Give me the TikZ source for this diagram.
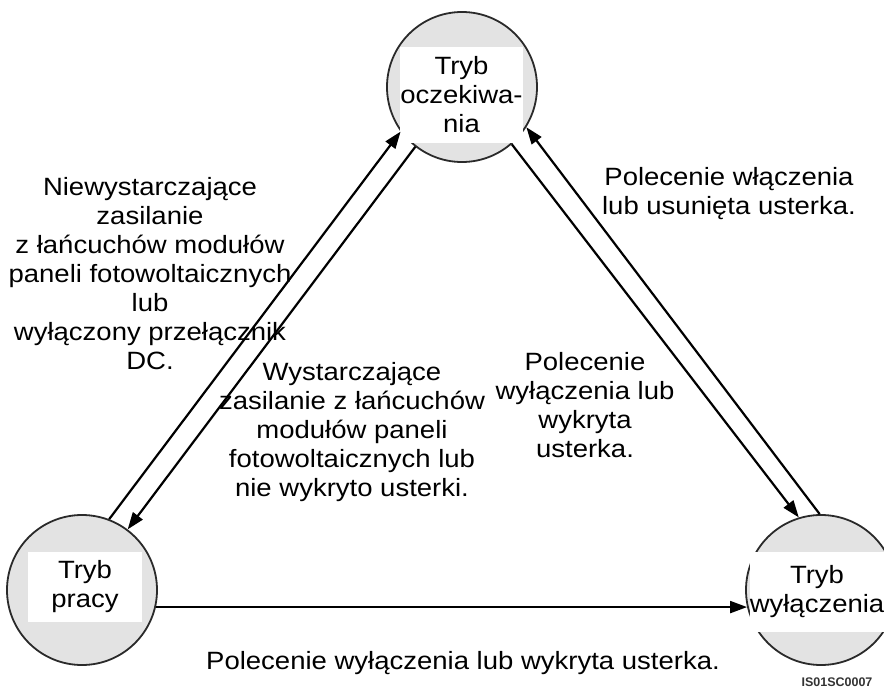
\documentclass[tikz,border=0pt]{standalone}
\usepackage{fontspec}
\setmainfont{Liberation Sans}[FakeStretch=1.1]
\newfontfamily\idfont{Liberation Sans}
\usetikzlibrary{arrows.meta}
\definecolor{circfill}{HTML}{E3E3E3}
\definecolor{circline}{HTML}{2A2A2A}
\tikzset{
  state/.style={circle, draw=circline, line width=1.8pt, fill=circfill, minimum size=150pt, inner sep=0pt},
  txtbox/.style={fill=white, inner sep=0pt, align=center, font=\fontsize{25}{29}\selectfont},
  lbl/.style={align=center, inner sep=0pt, font=\fontsize{25}{29}\selectfont},
  arr/.style={line width=2.2pt, -{Triangle[length=17pt,width=12pt]}}
}
\begin{document}
\begin{tikzpicture}[x=1pt,y=-1pt]
\useasboundingbox (0,0) rectangle (884,688);
% states
\node[state] (T) at (462,87) {};
\node[state] (L) at (82,590) {};
\node[state] (R) at (821,590) {};
% text boxes
\node[txtbox, minimum width=113pt, minimum height=96pt] (Tt) at (461.5,95) {Tryb\\oczekiwa-\\nia};
\node[txtbox, minimum width=114pt, minimum height=70pt] (Lt) at (85,587) {Tryb\\pracy};
\node[txtbox, minimum width=134pt, minimum height=80pt] (Rt) at (817,592) {Tryb\\wyłączenia};
% connectors
\draw[arr] (L.69) -- (T.216);
\draw[arr] (T.232) -- (L.53);
\draw[arr] (T.311) -- (R.107);
\draw[arr] (R.91) -- (T.328);
\draw[arr] (L.-13) -- (R.193);
% labels
\node[lbl] (l1) at (150,274) {Niewystarczające\\zasilanie\\z łańcuchów modułów\\paneli fotowoltaicznych\\lub\\wyłączony przełącznik\\DC.};
\node[lbl] (l2) at (352,432) {Wystarczające\\zasilanie z łańcuchów\\modułów paneli\\fotowoltaicznych lub\\nie wykryto usterki.};
\node[lbl] (l3) at (585,405) {Polecenie\\wyłączenia lub\\wykryta\\usterka.};
\node[lbl] (l4) at (729,194) {Polecenie włączenia\\lub usunięta usterka.};
\node[lbl] (l5) at (463,663) {Polecenie wyłączenia lub wykryta usterka.};
\node[inner sep=0pt, font=\idfont\fontsize{12.5}{14}\selectfont\bfseries, text=black!80] (id) at (837,682) {IS01SC0007};
\end{tikzpicture}
\end{document}
